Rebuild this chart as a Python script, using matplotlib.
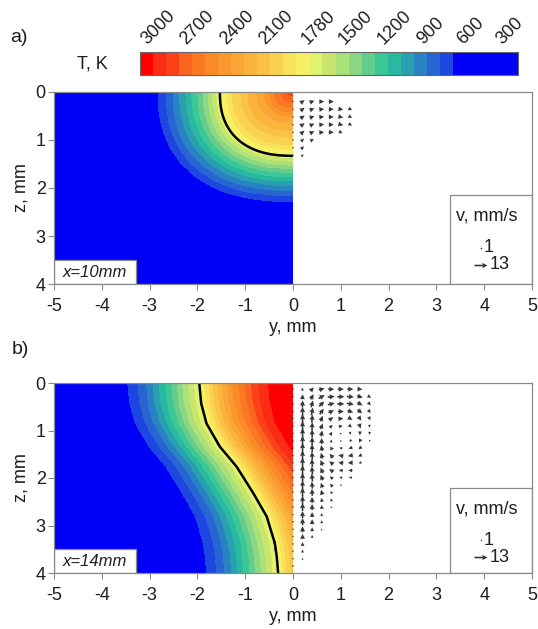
import numpy as np
import matplotlib
matplotlib.use("Agg")
import matplotlib.pyplot as plt
import matplotlib.transforms as mtransforms
from matplotlib.colors import ListedColormap, BoundaryNorm
from matplotlib.patches import Rectangle

plt.rcParams['font.family'] = ['Liberation Sans', 'DejaVu Sans']
plt.rcParams['axes.unicode_minus'] = False

# ---------------------------------------------------------------- temperature scale
# colour of each 29-step band, hottest first (RGB 0-255)
band_colors = [
    (255, 0, 0), (250, 45, 20), (250, 65, 25), (250, 100, 30), (250, 120, 35),
    (250, 138, 40), (250, 152, 45), (250, 165, 55), (250, 180, 60), (250, 195, 70),
    (250, 210, 80), (250, 225, 90), (245, 240, 100), (225, 242, 110), (200, 230, 110),
    (170, 225, 120), (140, 215, 130), (100, 205, 140), (60, 200, 150), (40, 185, 160),
    (40, 160, 175), (40, 130, 195), (40, 100, 210), (30, 70, 225),
    (0, 0, 250), (0, 0, 250), (0, 0, 250), (0, 0, 250), (0, 0, 250),
]
T_min, T_max = 300.0, 3000.0
T_melt = 1780.0
cbar_ticks = [3000, 2700, 2400, 2100, 1780, 1500, 1200, 900, 600, 300]

# ---------------------------------------------------------------- panel a (x = 10 mm)
# peak temperature at the pool centre (y = 0, z = 0)
a_T_peak = 2800
# isotherms: temperature, half-width on the surface and depth at y = 0 (mm)
a_iso_T = [2500, 2200, 2000, 1780, 1500, 1250, 1000, 766, 300]
a_iso_w = [0.45, 0.90, 1.25, 1.53, 1.80, 2.10, 2.45, 2.83, 5.60]
a_iso_d = [0.40, 0.78, 1.10, 1.33, 1.55, 1.77, 2.02, 2.30, 4.60]

# velocity field: rows (z, mm), columns (y, mm); cells are (direction deg, speed mm/s)
a_flow_z = [0.20, 0.36, 0.52, 0.68, 0.84, 1.00, 1.16, 1.32]
a_flow_y = [0.2, 0.4, 0.6, 0.8, 1.0, 1.2]
a_flow = [
    [(35, 5), (20, 5), (0, 5), (0, 5)],
    [(35, 5), (20, 5), (5, 5), (0, 5), (-10, 5), (-25, 4)],
    [(35, 5), (20, 5), (5, 5), (0, 5), (-10, 5), (-25, 4)],
    [(35, 5), (25, 5), (5, 5), (0, 5), (-15, 5), (-30, 4)],
    [(40, 5), (25, 5), (5, 5), (-5, 5), (-25, 4)],
    [(45, 4), (30, 4)],
    [(45, 4)],
    [(45, 3)],
]

# ---------------------------------------------------------------- panel b (x = 14 mm)
# melt line position against depth
b_bnd_z = [0.0, 0.43, 0.85, 1.34, 1.76, 2.32, 2.81, 3.37, 3.65, 4.0]
b_bnd_y = [-1.96, -1.92, -1.81, -1.53, -1.18, -0.83, -0.55, -0.38, -0.34, -0.31]
# temperature against horizontal distance from the melt line (mm, + towards y = 0)
b_dist = [-5.0, -2.1, -1.5, -1.2, -0.9, -0.6, -0.3, 0.0, 0.3, 0.7, 1.2, 1.6, 2.2]
b_T = [300, 400, 770, 900, 1100, 1320, 1560, 1780, 2100, 2450, 2800, 2980, 3000]

b_flow_z = [0.13, 0.29, 0.44, 0.60, 0.75, 0.91, 1.06, 1.22, 1.37, 1.53, 1.68, 1.84,
            1.99, 2.15, 2.30, 2.46, 2.61, 2.77, 2.92, 3.08, 3.23, 3.39, 3.54, 3.70, 3.85]
b_flow_y = [0.2, 0.4, 0.6, 0.8, 1.0, 1.2, 1.4, 1.6]
b_flow = [
    [(70, 3), (45, 5), (15, 6), (0, 6), (0, 6), (0, 6), (-5, 5)],
    [(85, 5), (60, 6), (30, 7), (5, 7), (0, 7), (-5, 7), (-20, 6), (-30, 4)],
    [(88, 7), (75, 7), (45, 7), (15, 7), (0, 7), (-10, 7), (-30, 6), (-45, 4)],
    [(90, 9), (80, 8), (55, 7), (25, 6), (0, 6), (-20, 6), (-40, 6), (-55, 4)],
    [(90, 9), (85, 8), (65, 6), (35, 5), (5, 5), (-30, 5), (-55, 5), (-70, 4)],
    [(90, 10), (88, 8), (72, 6), (45, 4), (10, 4), (-40, 4), (-70, 5), (-85, 3)],
    [(90, 10), (90, 8), (80, 6), (60, 4), (20, 2), (-70, 3), (-90, 4), (-100, 3)],
    [(90, 10), (90, 8), (88, 6), (85, 3), (135, 1), (-120, 3), (-115, 4), (-120, 2)],
    [(90, 10), (92, 8), (100, 6), (120, 4), (170, 3), (-160, 4), (-140, 4)],
    [(90, 10), (93, 8), (105, 6), (130, 5), (170, 5), (-170, 5), (-155, 4)],
    [(90, 10), (94, 8), (110, 6), (140, 5), (175, 5), (-175, 5), (-165, 3)],
    [(90, 10), (95, 8), (115, 6), (145, 5), (175, 4), (180, 4)],
    [(90, 9), (95, 8), (115, 6), (140, 4), (170, 3), (180, 3)],
    [(90, 9), (95, 7), (110, 5), (130, 4), (160, 2)],
    [(90, 9), (93, 7), (105, 5), (120, 3)],
    [(90, 8), (92, 6), (100, 4), (110, 3)],
    [(90, 8), (91, 6), (97, 4), (105, 2)],
    [(90, 7), (90, 5), (93, 3)],
    [(90, 7), (90, 5), (90, 3)],
    [(90, 6), (90, 4), (90, 2)],
    [(90, 5), (90, 3)],
    [(90, 4)],
    [(90, 3)],
    [(90, 2)],
    [],
]

# ---------------------------------------------------------------- styling helpers
W, H = 538.0, 629.0
FS = 13
GRID_COL = '#8a8a8a'
TXT = '#1e1e1e'
ARROW = '#363636'

cmap = ListedColormap([tuple(c / 255 for c in rgb) for rgb in band_colors[::-1]])
levels = np.linspace(T_min, T_max, len(band_colors) + 1)
norm = BoundaryNorm(levels, cmap.N)

gy = np.linspace(-5, 0, 501)
gz = np.linspace(0, 4, 401)
GY, GZ = np.meshgrid(gy, gz)


def field_a():
    # normalised superellipse distance of every grid point to each isotherm
    p = 2.4
    s = np.array([(np.abs(GY / w) ** p + (GZ / d) ** p) ** (1 / p)
                  for w, d in zip(a_iso_w, a_iso_d)])
    T = np.full(GY.shape, float(T_min))
    inner = s[0] <= 1
    T[inner] = a_T_peak + (a_iso_T[0] - a_T_peak) * s[0][inner]
    for k in range(len(a_iso_T) - 1):
        band = (s[k] > 1) & (s[k + 1] <= 1)
        f = (s[k][band] - 1) / (s[k][band] - s[k + 1][band])
        T[band] = a_iso_T[k] + f * (a_iso_T[k + 1] - a_iso_T[k])
    return T


def field_b():
    yb = np.interp(GZ, b_bnd_z, b_bnd_y)
    return np.interp(GY - yb, b_dist, b_T)


def flow_points(zs, ys, rows):
    py, pz, pu, pw = [], [], [], []
    for z, row in zip(zs, rows):
        py.append(0.0); pz.append(z); pu.append(0.0); pw.append(0.0)
        for y, cell in zip(ys, row):
            ang, spd = cell
            r = np.deg2rad(ang)
            py.append(y); pz.append(z)
            pu.append(spd * np.cos(r)); pw.append(-spd * np.sin(r))
    return py, pz, pu, pw


def panel(rect, T, flow, label, legend_top):
    ax = fig.add_axes(rect)
    im = ax.imshow(T, extent=[-5, 0, 4, 0], origin='upper', cmap=cmap, norm=norm,
                   interpolation='nearest', aspect='auto', zorder=1)
    ax.contour(GY, GZ, T, levels=[T_melt], colors='k', linewidths=1.8, zorder=2)
    ax.set_xlim(-5, 5)
    ax.set_ylim(4, 0)
    ax.set_xticks(range(-5, 6))
    ax.set_yticks(range(0, 5))
    ax.tick_params(direction='out', length=4, width=0.8, color=GRID_COL,
                   labelsize=FS, labelcolor=TXT, pad=2)
    ax.tick_params(axis='x', pad=6)
    for s in ax.spines.values():
        s.set_color(GRID_COL)
        s.set_linewidth(0.9)
        s.set_zorder(7)
    ax.set_xlabel('y, mm', fontsize=FS, color=TXT, labelpad=3)
    ax.set_ylabel('z, mm', fontsize=FS, color=TXT, labelpad=4)

    py, pz, pu, pw = flow
    q = ax.quiver(py, pz, pu, pw, angles='xy', scale_units='xy', scale=47.8,
                  pivot='mid', color=ARROW, width=0.0034, headwidth=3.2,
                  headlength=3.2, headaxislength=2.9, minlength=1.0, zorder=3)

    # velocity legend box
    ax.add_patch(Rectangle((0.828, 0.0), 0.172, legend_top, transform=ax.transAxes,
                           facecolor='white', edgecolor=GRID_COL, lw=0.9, zorder=4))
    ax.text(0.84, legend_top - 0.11, 'v, mm/s', transform=ax.transAxes,
            fontsize=FS, ha='left', va='center', zorder=5, color=TXT)
    k1 = ax.quiverkey(q, 0.893, legend_top - 0.275, 1, '1', labelpos='E',
                      coordinates='axes', labelsep=0.03, color=ARROW,
                      fontproperties={'size': FS})
    k2 = ax.quiverkey(q, 0.906, legend_top - 0.365, 13, '13', labelpos='E',
                      coordinates='axes', labelsep=0.03, color=ARROW,
                      fontproperties={'size': FS})
    for k in (k1, k2):
        k.set_zorder(6)
        k.text.set_color(TXT)

    # position label
    ax.add_patch(Rectangle((0.0, 0.0), 0.172, 0.125, transform=ax.transAxes,
                           facecolor='white', edgecolor=GRID_COL, lw=0.9, zorder=4))
    ax.text(0.086, 0.062, label, transform=ax.transAxes, fontsize=FS - 1,
            style='italic', ha='center', va='center', zorder=5, color=TXT)
    return ax, im


fig = plt.figure(figsize=(W / 100, H / 100), dpi=100)

ax_a, im_a = panel([54 / W, 1 - 284 / H, 478 / W, 192 / H], field_a(),
                   flow_points(a_flow_z, a_flow_y, a_flow), 'x=10mm', 0.464)
ax_b, im_b = panel([54 / W, 1 - 573 / H, 478 / W, 190 / H], field_b(),
                   flow_points(b_flow_z, b_flow_y, b_flow), 'x=14mm', 0.447)

# temperature colour bar
cax = fig.add_axes([140 / W, 1 - 75 / H, 378 / W, 23 / H])
cb = fig.colorbar(im_a, cax=cax, orientation='horizontal', drawedges=True,
                  ticks=cbar_ticks)
cb.ax.invert_xaxis()
cb.outline.set_edgecolor('#666666')
cb.outline.set_linewidth(0.8)
cb.dividers.set_color('#555555')
cb.dividers.set_linewidth(0.7)
cax.xaxis.set_ticks_position('top')
cax.minorticks_off()
cax.tick_params(axis='x', length=0, pad=3, labelsize=FS, labelcolor=TXT)
cax.set_xticklabels([str(t) for t in cbar_ticks])
labels = cax.get_xticklabels()
for i, t in enumerate(labels):
    t.set_rotation(45)
    t.set_ha('left')
    t.set_va('bottom')
    t.set_rotation_mode('anchor')
    shift = (7.0 - 16.0 * i / (len(labels) - 1)) / 72.0
    t.set_transform(t.get_transform() +
                    mtransforms.ScaledTranslation(shift, 0, fig.dpi_scale_trans))

fig.text(92 / W, 1 - 64 / H, 'T, K', fontsize=FS, ha='center', va='center', color=TXT)
fig.text(10 / W, 1 - 38 / H, 'a)', fontsize=FS + 1, ha='left', va='center', color=TXT)
fig.text(12 / W, 1 - 350 / H, 'b)', fontsize=FS + 1, ha='left', va='center', color=TXT)

fig.savefig('out.png', dpi=100)
